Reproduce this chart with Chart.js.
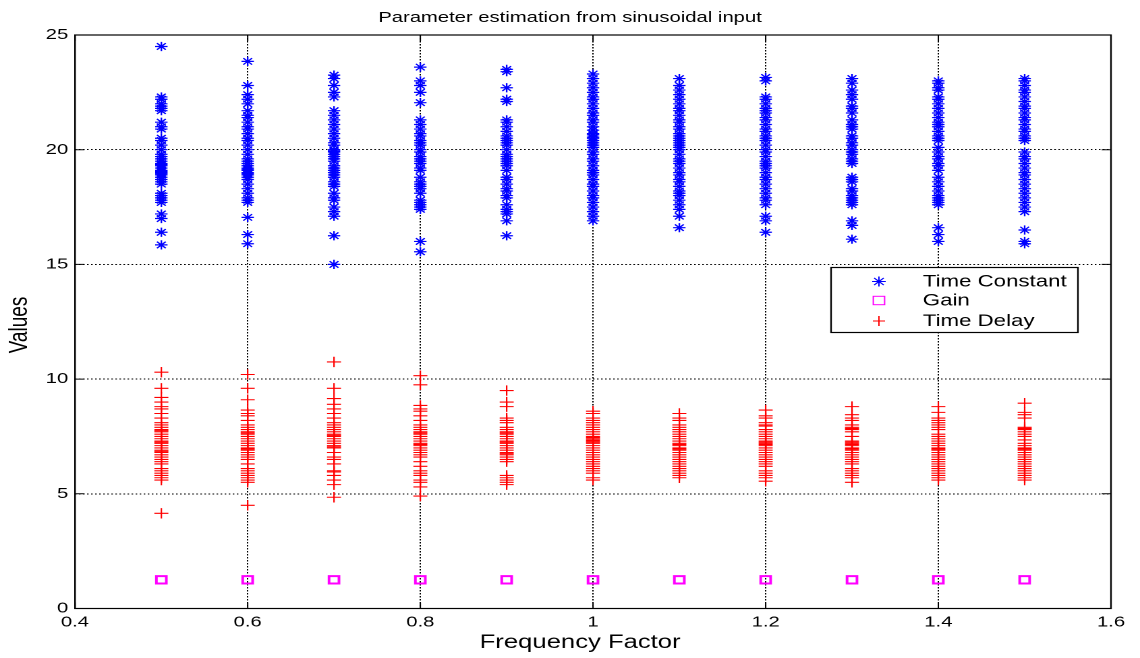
<!DOCTYPE html>
<html>
<head>
<meta charset="utf-8">
<script src="https://cdn.jsdelivr.net/npm/chart.js@4.4.1/dist/chart.umd.min.js"></script>
<style>
html,body{margin:0;padding:0;background:#fff;overflow:hidden;}
#wrap{width:845px;height:658px;transform:scaleX(1.34911);transform-origin:0 0;}
</style>
</head>
<body>
<div id="wrap"><canvas id="c" width="845" height="658"></canvas></div>
<script>
const chartTitle = 'Parameter estimation from sinusoidal input';
const xAxisTitle = 'Frequency Factor';
const yAxisTitle = 'Values';
const seriesLabels = ['Time Constant', 'Gain', 'Time Delay'];

const xTicks = [0.4, 0.6, 0.8, 1.0, 1.2, 1.4, 1.6];
const xTickLabels = ['0.4', '0.6', '0.8', '1', '1.2', '1.4', '1.6'];
const yTicks = [0, 5, 10, 15, 20, 25];
const yTickLabels = ['0', '5', '10', '15', '20', '25'];

const frequencyFactors = [0.5, 0.6, 0.7, 0.8, 0.9, 1.0, 1.1, 1.2, 1.3, 1.4, 1.5];

const timeConstant = [
  [24.5, 22.3, 22.2, 22.0, 21.9, 21.8, 21.7, 21.2, 21.0, 20.9, 20.5, 20.4, 20.2, 20.0, 19.8, 19.6, 19.5, 19.4, 19.3, 19.2, 19.1, 19.0, 18.9, 18.8, 18.7, 18.6, 18.5, 18.1, 18.0, 17.9, 17.8, 17.7, 17.2, 17.0, 16.4, 15.85, 19.7, 19.05, 18.95, 19.35],
  [23.85, 22.8, 22.4, 22.2, 22.0, 21.7, 21.5, 21.4, 21.2, 21.0, 20.9, 20.7, 20.5, 20.4, 20.2, 20.0, 19.8, 19.6, 19.5, 19.3, 19.2, 19.1, 19.0, 18.9, 18.8, 18.7, 18.5, 18.3, 18.1, 17.9, 17.8, 17.7, 17.05, 16.3, 15.9, 19.4, 19.15, 18.95],
  [23.25, 23.1, 22.8, 22.5, 22.3, 21.7, 21.5, 21.3, 21.1, 20.9, 20.7, 20.5, 20.3, 20.2, 20.0, 19.9, 19.8, 19.7, 19.5, 19.3, 19.2, 19.0, 18.9, 18.8, 18.6, 18.5, 18.4, 18.1, 17.9, 17.8, 17.5, 17.3, 17.1, 16.25, 15.0, 19.95, 19.6, 19.1],
  [23.6, 23.0, 22.8, 22.5, 22.05, 21.3, 21.1, 20.9, 20.7, 20.6, 20.4, 20.2, 20.0, 19.9, 19.7, 19.5, 19.4, 19.2, 19.1, 18.8, 18.6, 18.4, 18.3, 18.1, 17.8, 17.7, 17.6, 17.5, 17.4, 16.0, 15.55, 20.3, 19.6, 18.5],
  [23.5, 23.4, 22.7, 22.2, 22.1, 21.3, 21.2, 21.0, 20.8, 20.6, 20.5, 20.3, 20.2, 20.0, 19.8, 19.7, 19.5, 19.4, 19.3, 19.1, 18.8, 18.7, 18.5, 18.3, 18.2, 18.0, 17.9, 17.6, 17.4, 17.3, 17.2, 16.9, 16.25, 20.4, 19.6],
  [23.3, 23.1, 22.9, 22.7, 22.5, 22.3, 22.2, 22.0, 21.8, 21.6, 21.5, 21.3, 21.2, 21.0, 20.85, 20.7, 20.65, 20.55, 20.5, 20.4, 20.3, 20.2, 20.1, 19.9, 19.8, 19.6, 19.5, 19.3, 19.1, 19.0, 18.9, 18.7, 18.5, 18.4, 18.2, 18.0, 17.9, 17.7, 17.5, 17.3, 17.1, 16.9],
  [23.1, 22.8, 22.6, 22.4, 22.2, 22.0, 21.8, 21.7, 21.5, 21.3, 21.2, 21.0, 20.9, 20.7, 20.6, 20.5, 20.4, 20.3, 20.2, 20.1, 20.0, 19.8, 19.6, 19.5, 19.4, 19.2, 19.0, 18.9, 18.7, 18.6, 18.4, 18.2, 18.1, 18.0, 17.8, 17.6, 17.4, 17.1, 16.6],
  [23.15, 23.0, 22.3, 22.2, 22.0, 21.8, 21.7, 21.6, 21.4, 21.3, 21.1, 20.9, 20.8, 20.6, 20.5, 20.4, 20.2, 20.0, 19.9, 19.7, 19.5, 19.4, 19.3, 19.2, 19.0, 18.8, 18.7, 18.5, 18.3, 18.1, 17.9, 17.8, 17.6, 17.1, 16.9, 16.4],
  [23.1, 22.9, 22.6, 22.4, 22.2, 21.9, 21.8, 21.6, 21.3, 21.1, 20.9, 20.6, 20.5, 20.3, 20.0, 19.9, 19.8, 19.6, 19.5, 19.4, 18.8, 18.7, 18.6, 18.3, 18.2, 18.0, 17.9, 17.8, 17.7, 17.6, 16.9, 16.7, 16.1, 20.2, 21.0],
  [23.0, 22.9, 22.7, 22.6, 22.3, 22.2, 22.0, 21.8, 21.6, 21.4, 21.2, 21.1, 21.0, 20.8, 20.6, 20.5, 20.4, 20.1, 19.9, 19.7, 19.6, 19.4, 19.3, 19.1, 18.8, 18.6, 18.4, 18.2, 18.0, 17.9, 17.8, 17.7, 17.6, 16.6, 16.3, 16.0],
  [23.1, 23.0, 22.8, 22.6, 22.5, 22.3, 22.1, 21.9, 21.8, 21.6, 21.4, 21.3, 21.1, 20.9, 20.8, 20.6, 20.5, 20.4, 19.9, 19.7, 19.6, 19.4, 19.2, 19.0, 18.9, 18.7, 18.5, 18.3, 18.1, 17.9, 17.7, 17.5, 17.3, 16.5, 16.0, 15.9]
];

const gain = [1.25, 1.25, 1.25, 1.25, 1.25, 1.25, 1.25, 1.25, 1.25, 1.25, 1.25];

const timeDelay = [
  [10.3, 9.6, 9.2, 9.0, 8.8, 8.7, 8.5, 8.3, 8.1, 8.0, 7.9, 7.8, 7.7, 7.6, 7.5, 7.4, 7.3, 7.2, 7.1, 7.0, 6.9, 6.8, 6.7, 6.6, 6.5, 6.4, 6.3, 6.1, 6.0, 5.9, 5.8, 5.7, 5.6, 4.15, 7.75, 7.25, 6.85],
  [10.2, 9.6, 9.1, 8.65, 8.5, 8.4, 8.2, 8.0, 7.9, 7.8, 7.7, 7.6, 7.5, 7.4, 7.3, 7.2, 7.1, 7.0, 6.9, 6.8, 6.7, 6.6, 6.5, 6.3, 6.1, 6.0, 5.9, 5.8, 5.7, 5.6, 5.5, 4.5, 7.65, 6.95],
  [10.75, 9.6, 9.15, 8.9, 8.7, 8.5, 8.3, 8.1, 8.0, 7.9, 7.8, 7.7, 7.6, 7.5, 7.4, 7.3, 7.2, 7.1, 7.0, 6.8, 6.6, 6.5, 6.3, 6.0, 5.95, 5.8, 5.6, 5.4, 4.85, 7.55, 7.05],
  [10.15, 9.75, 8.85, 8.7, 8.6, 8.4, 8.2, 8.0, 7.9, 7.8, 7.7, 7.6, 7.5, 7.4, 7.3, 7.2, 7.1, 7.0, 6.9, 6.8, 6.7, 6.6, 6.4, 6.2, 6.0, 5.9, 5.8, 5.6, 5.5, 5.3, 4.9, 7.65, 7.15],
  [9.5, 9.0, 8.8, 8.3, 8.2, 8.1, 7.9, 7.8, 7.7, 7.6, 7.5, 7.4, 7.3, 7.2, 7.1, 7.0, 6.9, 6.8, 6.7, 6.6, 6.5, 6.4, 5.8, 5.7, 5.6, 5.5, 5.4, 7.65, 7.25, 6.75],
  [8.6, 8.5, 8.3, 8.2, 8.1, 8.0, 7.9, 7.8, 7.7, 7.6, 7.5, 7.4, 7.35, 7.3, 7.2, 7.1, 7.0, 6.9, 6.8, 6.7, 6.6, 6.5, 6.4, 6.3, 6.2, 6.1, 6.0, 5.9, 5.7, 5.6, 7.45, 7.25],
  [8.5, 8.3, 8.2, 8.0, 7.9, 7.8, 7.7, 7.6, 7.5, 7.4, 7.3, 7.2, 7.1, 7.0, 6.9, 6.8, 6.7, 6.6, 6.5, 6.4, 6.3, 6.2, 6.1, 6.0, 5.9, 5.8, 5.7, 7.15, 6.95],
  [8.65, 8.4, 8.3, 8.1, 8.0, 7.95, 7.8, 7.7, 7.6, 7.5, 7.4, 7.3, 7.2, 7.1, 7.0, 6.9, 6.8, 6.7, 6.6, 6.5, 6.4, 6.3, 6.2, 6.0, 5.9, 5.8, 5.7, 5.55, 7.25, 7.15],
  [8.8, 8.45, 8.3, 8.2, 8.0, 7.9, 7.85, 7.8, 7.7, 7.5, 7.3, 7.25, 7.2, 7.1, 7.0, 6.9, 6.8, 6.7, 6.6, 6.5, 6.4, 6.3, 6.1, 6.0, 5.9, 5.8, 5.7, 5.5, 7.15, 6.95],
  [8.8, 8.55, 8.3, 8.2, 8.1, 8.0, 7.9, 7.8, 7.6, 7.5, 7.4, 7.3, 7.2, 7.1, 7.0, 6.95, 6.9, 6.8, 6.7, 6.6, 6.5, 6.4, 6.3, 6.2, 6.1, 6.0, 5.9, 5.8, 5.7, 5.6],
  [8.95, 8.55, 8.45, 8.3, 7.9, 7.85, 7.8, 7.7, 7.6, 7.5, 7.35, 7.2, 7.1, 7.0, 6.95, 6.9, 6.8, 6.7, 6.6, 6.5, 6.4, 6.3, 6.2, 6.1, 6.0, 5.9, 5.8, 5.7, 5.6]
];

const FONT = '"Liberation Sans", Arial, Helvetica, sans-serif';
const BLUE = '#0000ff', MAGENTA = '#ff00ff', RED = '#ff0000';

const tcPoints = frequencyFactors.flatMap((f, i) => timeConstant[i].map(v => ({x: f, y: v})));
const gainPoints = frequencyFactors.map((f, i) => ({x: f, y: gain[i]}));
const tdPoints = frequencyFactors.flatMap((f, i) => timeDelay[i].map(v => ({x: f, y: v})));

const decor = {
  id: 'decor',
  afterDraw(chart) {
    const {ctx, chartArea: a, scales: {x, y}} = chart;
    ctx.save();
    ctx.setLineDash([]);
    ctx.strokeStyle = '#000';
    ctx.lineWidth = 1.2;
    ctx.strokeRect(a.left, a.top, a.right - a.left, a.bottom - a.top);
    ctx.lineWidth = 1;
    ctx.beginPath();
    xTicks.forEach(v => {
      const px = x.getPixelForValue(v);
      ctx.moveTo(px, a.bottom); ctx.lineTo(px, a.bottom - 6);
      ctx.moveTo(px, a.top); ctx.lineTo(px, a.top + 6);
    });
    yTicks.forEach(v => {
      const py = y.getPixelForValue(v);
      ctx.moveTo(a.left, py); ctx.lineTo(a.left + 7, py);
      ctx.moveTo(a.right, py); ctx.lineTo(a.right - 7, py);
    });
    ctx.stroke();

    ctx.fillStyle = '#000';
    ctx.textAlign = 'center';
    ctx.textBaseline = 'middle';
    // chart title, centred on the whole figure
    ctx.font = '15px ' + FONT;
    ctx.fillText(chartTitle, chart.width / 2, 18);
    // axis titles
    ctx.font = '19px ' + FONT;
    ctx.fillText(xAxisTitle, 430, 643);
    ctx.save();
    ctx.translate(15, 325);
    ctx.rotate(-Math.PI / 2);
    ctx.fillText(yAxisTitle, 0, 0);
    ctx.restore();

    // legend
    const L = 616, R = 799, T = 267.5, B = 332.5;
    ctx.fillStyle = '#fff';
    ctx.fillRect(L, T, R - L, B - T);
    ctx.strokeStyle = '#000';
    ctx.lineWidth = 1.2;
    ctx.strokeRect(L, T, R - L, B - T);
    const mx = 651.5;
    const rows = [281.5, 300.5, 321];
    ctx.lineWidth = 1;
    ctx.strokeStyle = BLUE;
    ctx.beginPath();
    const r = 5, d = r * Math.SQRT1_2;
    ctx.moveTo(mx - r, rows[0]); ctx.lineTo(mx + r, rows[0]);
    ctx.moveTo(mx, rows[0] - r); ctx.lineTo(mx, rows[0] + r);
    ctx.moveTo(mx - d, rows[0] - d); ctx.lineTo(mx + d, rows[0] + d);
    ctx.moveTo(mx - d, rows[0] + d); ctx.lineTo(mx + d, rows[0] - d);
    ctx.stroke();
    ctx.strokeStyle = MAGENTA;
    ctx.strokeRect(mx - 4.2, rows[1] - 4.2, 8.4, 8.4);
    ctx.strokeStyle = RED;
    ctx.beginPath();
    ctx.moveTo(mx - 4.5, rows[2]); ctx.lineTo(mx + 4.5, rows[2]);
    ctx.moveTo(mx, rows[2] - 5); ctx.lineTo(mx, rows[2] + 5);
    ctx.stroke();
    ctx.fillStyle = '#000';
    ctx.font = '16.5px ' + FONT;
    ctx.textAlign = 'left';
    seriesLabels.forEach((s, i) => ctx.fillText(s, 684, rows[i] + 0.5));
    ctx.restore();
  }
};

new Chart(document.getElementById('c'), {
  type: 'scatter',
  data: {
    datasets: [
      {label: seriesLabels[0], data: tcPoints, pointStyle: 'star', radius: 4.6, borderColor: BLUE, backgroundColor: BLUE, borderWidth: 1.2, hoverRadius: 4.6},
      {label: seriesLabels[1], data: gainPoints, pointStyle: 'rect', radius: 5.2, borderColor: MAGENTA, backgroundColor: 'rgba(0,0,0,0)', borderWidth: 2, hoverRadius: 5.2},
      {label: seriesLabels[2], data: tdPoints, pointStyle: 'cross', radius: 5.2, borderColor: RED, backgroundColor: RED, borderWidth: 1.1, hoverRadius: 5.2}
    ]
  },
  plugins: [decor],
  options: {
    responsive: false,
    animation: false,
    devicePixelRatio: 2,
    events: [],
    layout: {padding: {top: 35, right: 21.5, bottom: 0, left: 0}},
    plugins: {
      legend: {display: false},
      tooltip: {enabled: false},
      title: {display: false}
    },
    scales: {
      x: {
        type: 'linear',
        min: 0.4,
        max: 1.6,
        afterBuildTicks: s => { s.ticks = xTicks.map(v => ({value: v})); },
        afterFit: s => { s.height = 49.5; },
        ticks: {
          color: '#000',
          font: {family: FONT, size: 15},
          padding: 5,
          maxRotation: 0,
          autoSkip: false,
          callback: (v, i) => xTickLabels[i]
        },
        grid: {color: '#000', lineWidth: 1, drawTicks: false},
        border: {display: false, dash: [1.5, 1.5]}
      },
      y: {
        type: 'linear',
        min: 0,
        max: 25,
        afterBuildTicks: s => { s.ticks = yTicks.map(v => ({value: v})); },
        afterFit: s => { s.width = 55.6; },
        ticks: {
          color: '#000',
          font: {family: FONT, size: 15},
          padding: 5,
          autoSkip: false,
          callback: (v, i) => yTickLabels[i]
        },
        grid: {color: '#000', lineWidth: 1, drawTicks: false},
        border: {display: false, dash: [1.2, 1.8]}
      }
    }
  }
});
</script>
</body>
</html>
